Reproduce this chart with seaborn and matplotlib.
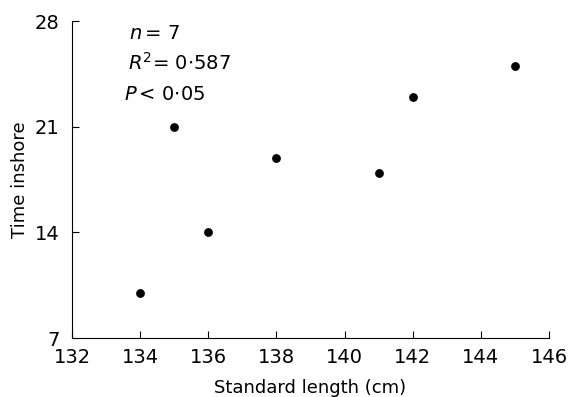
import matplotlib
matplotlib.use("Agg")
import matplotlib.pyplot as plt
import seaborn as sns
import pandas as pd

standard_length = [134, 135, 136, 138, 141, 142, 145]
time_inshore = [10, 21, 14, 18.9, 17.9, 23, 25]
x_ticks = [132, 134, 136, 138, 140, 142, 144, 146]
y_ticks = [7, 14, 21, 28]
stats_lines = [r"$n\,$= 7", r"$R^2$= 0$\cdot$587", r"$P\,$< 0$\cdot$05"]

sns.set_theme(style="ticks")
plt.rcParams['font.family'] = ['DejaVu Sans']
plt.rcParams['mathtext.fontset'] = 'dejavusans'

df = pd.DataFrame({"x": standard_length, "y": time_inshore})

fig = plt.figure(figsize=(5.68, 3.97), dpi=100)
ax = fig.add_axes([0.1268, 0.1486, 0.8397, 0.7984])
sns.scatterplot(data=df, x="x", y="y", ax=ax, color="black", s=40,
                edgecolor="black", linewidth=0, legend=False)

ax.set_xlim(132, 146)
ax.set_ylim(7, 28)
ax.set_xticks(x_ticks)
ax.set_yticks(y_ticks)
ax.set_xticklabels([str(t) for t in x_ticks], fontsize=14)
ax.set_yticklabels([str(t) for t in y_ticks], fontsize=14)
ax.tick_params(direction="in", length=5, width=0.8, colors="black")
ax.tick_params(axis="x", pad=7)
ax.tick_params(axis="y", pad=9)
for s in ["top", "right"]:
    ax.spines[s].set_visible(False)
for s in ["left", "bottom"]:
    ax.spines[s].set_linewidth(0.8)
    ax.spines[s].set_color("black")

ax.set_xlabel("Standard length (cm)", fontsize=13, labelpad=9, color="black")
ax.set_ylabel("Time inshore", fontsize=13, labelpad=4, color="black")

y_positions = [0.962, 0.867, 0.767]
x_positions = [0.12, 0.118, 0.11]
for txt, xp, yp in zip(stats_lines, x_positions, y_positions):
    ax.text(xp, yp, txt, transform=ax.transAxes, fontsize=14, va="center",
            ha="left", color="black")

fig.savefig("out.png", dpi=100)
